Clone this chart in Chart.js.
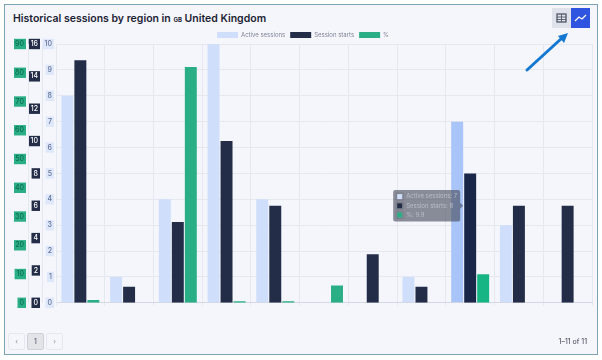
<!DOCTYPE html>
<html lang="en">
<head>
<meta charset="utf-8"/>
<title>Historical sessions by region</title>
<script src="https://cdn.jsdelivr.net/npm/chart.js"></script>
<style>
  html, body { margin: 0; padding: 0; background: #fff; }
  body { width: 602px; height: 360px; position: relative; overflow: hidden; font-family: Inter, sans-serif; }
  .card { position: absolute; left: 4px; top: 4px; width: 592px; height: 349px; border: 1px solid #7fa3b5; background: #f5f6fc; }
  h1 { position: absolute; left: 8px; top: 7px; margin: 0; font-size: 10.5px; line-height: 14px; font-weight: 600; color: #1c2333; white-space: nowrap; }
  h1 small { font-size: 6px; font-weight: 700; }
  .chart { position: absolute; left: 0; top: 22px; width: 589px; height: 284px; }
  .btn { position: absolute; top: 3px; width: 19px; height: 20px; }
  .view { left: 547px; background: #dfe2ea; }
  .line { left: 566px; background: #2f55e0; }
  .btn svg { display: block; }
  .arrow { position: absolute; left: 0; top: 0; }
  .page { position: absolute; top: 333px; width: 15px; height: 15px; border: 1px solid #e6e8ef; border-radius: 2px; font-size: 7px; line-height: 15px; text-align: center; color: #8a90a0; }
  .page.on { background: #e3e4e8; border-color: #cfd1d8; color: #444b5c; }
  .count { position: absolute; right: 15px; top: 337px; font-size: 7px; line-height: 10px; color: #3a4152; }
</style>
</head>
<body>
<div class="card">
  <h1>Historical sessions by region in <small>GB</small> United Kingdom</h1>
  <div class="btn view"><svg width="19" height="20" viewBox="0 0 19 20"><rect x="5" y="6" width="9" height="8" fill="none" stroke="#444b5c" stroke-width="1.2"/><path d="M9.5 6V14M5 9H14M5 11.5H14" stroke="#444b5c" stroke-width="0.8"/></svg></div>
  <div class="btn line"><svg width="19" height="20" viewBox="0 0 19 20"><path d="M4 13L8 9L11 11L15 7" fill="none" stroke="#fff" stroke-width="1.2"/></svg></div>
  <div class="chart"><canvas id="grafik"></canvas></div>
</div>
<svg class="arrow" width="602" height="360"><path d="M527 70L562 38" stroke="#1478d2" stroke-width="3" stroke-linecap="round"/><path d="M568 33L558 36L564 43Z" fill="#1478d2"/></svg>
<div class="page" style="left:8px">&#8249;</div>
<div class="page on" style="left:27px">1</div>
<div class="page" style="left:46px">&#8250;</div>
<div class="count">1–11 of 11</div>
<script>
const regions = ["", "", "", "", "", "", "", "", "", "", ""];
const activeSessions = [8, 1, 4, 10, 4, 0, 0, 1, 7, 3, 0];
const sessionStarts = [15, 1, 5, 10, 6, 0, 3, 1, 8, 6, 6];
const percent = [1, 0, 82, 0.5, 0.5, 6, 0, 0, 9.9, 0, 0];

const grid = "#e6e8f0";
const tickFont = { family: "Inter", size: 7, weight: "500" };

function axis(weight, max, step, color, backdrop, showGrid) {
  return {
    position: "left",
    weight,
    min: 0,
    max,
    afterFit: s => { s.width = 14; },
    grid: { display: showGrid, color: grid, drawTicks: false },
    border: { display: true, color: grid },
    ticks: {
      stepSize: step,
      color,
      font: tickFont,
      padding: 4,
      showLabelBackdrop: true,
      backdropColor: backdrop,
      backdropPadding: { x: 2, y: 1 }
    }
  };
}

Chart.Tooltip.positioners.session = function (items) {
  const p = Chart.Tooltip.positioners.average.call(this, items);
  return p && { x: p.x - 5, y: p.y + 16 };
};

// legend sits closer to the plot than its padding allows
const tightLegend = {
  id: "tightLegend",
  beforeInit(chart) {
    const fit = chart.legend.fit;
    chart.legend.fit = function () {
      fit.call(this);
      this.height -= 4;
    };
  }
};

const chart = new Chart(document.getElementById("grafik"), {
  type: "bar",
  plugins: [tightLegend],
  data: {
    labels: regions,
    datasets: [
      { label: "Active sessions", data: activeSessions, yAxisID: "y", backgroundColor: "#cfdffb", hoverBackgroundColor: "#a8c4f8" },
      { label: "Session starts", data: sessionStarts, yAxisID: "y1", backgroundColor: "#232d47", hoverBackgroundColor: "#1b2748" },
      { label: "%", data: percent, yAxisID: "y2", backgroundColor: "#2aae86", hoverBackgroundColor: "#16b583" }
    ]
  },
  options: {
    responsive: true,
    maintainAspectRatio: false,
    animation: false,
    events: [],
    datasets: { bar: { categoryPercentage: 0.8, barPercentage: 0.92 } },
    layout: { padding: { left: 9, right: 2, top: 0, bottom: 0 } },
    plugins: {
      legend: {
        position: "top",
        labels: { boxWidth: 21, boxHeight: 6, font: { family: "Inter", size: 6 }, color: "#7d8494", padding: 5 }
      },
      tooltip: {
        position: "session",
        xAlign: "right",
        yAlign: "center",
        backgroundColor: "rgba(70,75,90,0.62)",
        multiKeyBackground: "rgba(0,0,0,0)",
        titleFont: { size: 0 },
        titleMarginBottom: 0,
        bodyFont: { family: "Inter", size: 6 },
        bodyColor: "#b9bdc9",
        bodySpacing: 2,
        padding: 3,
        cornerRadius: 2,
        boxWidth: 7,
        boxHeight: 7,
        boxPadding: 1,
        caretSize: 3,
        callbacks: { title: () => "" }
      }
    },
    scales: {
      x: {
        grid: { color: grid, drawTicks: true, tickLength: 3 },
        border: { color: "#d5d8e2" },
        ticks: { display: false }
      },
      y: axis(0, 10, 1, "#5f7096", "#dfe7fb", true),
      y1: axis(1, 16, 2, "#ffffff", "#232d47", false),
      y2: axis(2, 90, 10, "#0b6b4e", "#2aae86", false)
    }
  }
});

const active = [0, 1, 2].map(datasetIndex => ({ datasetIndex, index: 8 }));
chart.setActiveElements(active);
chart.tooltip.setActiveElements(active, { x: 460, y: 205 });
chart.update();
</script>
</body>
</html>
